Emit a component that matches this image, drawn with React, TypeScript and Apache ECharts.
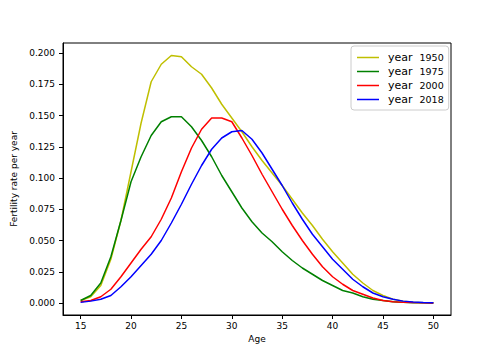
import React, { useEffect, useRef } from "react";
import * as echarts from "echarts";

const ages = [15, 16, 17, 18, 19, 20, 21, 22, 23, 24, 25, 26, 27, 28, 29, 30, 31, 32, 33, 34, 35, 36, 37, 38, 39, 40, 41, 42, 43, 44, 45, 46, 47, 48, 49, 50];

const fert1950 = [0.002, 0.005, 0.014, 0.035, 0.066, 0.105, 0.144, 0.177, 0.191, 0.198, 0.197, 0.189, 0.183, 0.172, 0.159, 0.148, 0.137, 0.125, 0.114, 0.104, 0.094, 0.083, 0.072, 0.062, 0.051, 0.041, 0.032, 0.023, 0.016, 0.010, 0.006, 0.003, 0.0015, 0.0007, 0.0003, 0.0001];
const fert1975 = [0.002, 0.006, 0.016, 0.037, 0.066, 0.097, 0.117, 0.134, 0.145, 0.149, 0.149, 0.141, 0.130, 0.117, 0.102, 0.089, 0.076, 0.065, 0.056, 0.049, 0.041, 0.034, 0.028, 0.023, 0.018, 0.014, 0.010, 0.008, 0.005, 0.003, 0.002, 0.001, 0.0005, 0.0002, 0.0001, 0.0];
const fert2000 = [0.001, 0.002, 0.005, 0.011, 0.021, 0.032, 0.043, 0.053, 0.067, 0.084, 0.105, 0.124, 0.139, 0.148, 0.148, 0.145, 0.132, 0.118, 0.103, 0.089, 0.075, 0.062, 0.050, 0.039, 0.029, 0.021, 0.015, 0.010, 0.007, 0.004, 0.002, 0.001, 0.0005, 0.0003, 0.0001, 0.0];
const fert2018 = [0.0005, 0.0015, 0.003, 0.006, 0.013, 0.021, 0.030, 0.039, 0.050, 0.064, 0.079, 0.095, 0.110, 0.123, 0.132, 0.137, 0.138, 0.131, 0.120, 0.107, 0.094, 0.080, 0.067, 0.055, 0.045, 0.035, 0.027, 0.019, 0.013, 0.008, 0.005, 0.003, 0.0015, 0.0008, 0.0004, 0.0002];

const seriesNames = ["1950", "1975", "2000", "2018"];
const seriesValues = [fert1950, fert1975, fert2000, fert2018];
const seriesColors = ["#bfbf00", "#008000", "#ff0000", "#0000ff"];

const xTicks = [15, 20, 25, 30, 35, 40, 45, 50];
const yTicks = [0, 0.025, 0.05, 0.075, 0.1, 0.125, 0.15, 0.175, 0.2];

const FONT = "DejaVu Sans";

export default function App() {
  const ref = useRef<HTMLDivElement>(null);
  useEffect(() => {
    if (!ref.current) return;
    const chart = echarts.init(ref.current, null, { renderer: "svg" });
    chart.setOption({
      animation: false,
      textStyle: { fontFamily: FONT },
      grid: {
        left: 63,
        right: 53,
        top: 43,
        bottom: 45,
        show: true,
        borderColor: "#000",
        borderWidth: 1,
        backgroundColor: "transparent",
      },
      legend: {
        orient: "vertical",
        left: 351,
        top: 46,
        padding: [6, 5, 5, 6],
        itemGap: 3,
        itemWidth: 22,
        itemHeight: 1.5,
        icon: "rect",
        backgroundColor: "rgba(255,255,255,0.8)",
        borderColor: "#cccccc",
        borderWidth: 1,
        borderRadius: 3,
        data: seriesNames,
        formatter: (name: string) => `{y|year}{n|${name}}`,
        textStyle: {
          fontFamily: FONT,
          color: "#000",
          rich: {
            y: { fontFamily: FONT, fontSize: 11, color: "#000", padding: [0, 0, 0, 4], lineHeight: 13 },
            n: { fontFamily: FONT, fontSize: 9.5, color: "#000", padding: [0, 0, 0, 7], lineHeight: 13 },
          },
        },
      },
      xAxis: {
        type: "value",
        min: 13.25,
        max: 51.75,
        name: "Age",
        nameLocation: "middle",
        nameGap: 19,
        nameTextStyle: { fontFamily: FONT, fontSize: 9, color: "#000" },
        splitLine: { show: false },
        axisLine: { show: true, onZero: false, lineStyle: { color: "#000" } },
        axisTick: { show: true, length: 4, lineStyle: { color: "#000" }, customValues: xTicks },
        axisLabel: { fontFamily: FONT, fontSize: 9, color: "#000", margin: 6, customValues: xTicks, formatter: (v: number) => String(v) },
      },
      yAxis: {
        type: "value",
        min: -0.0096,
        max: 0.208,
        name: "Fertility rate per year",
        nameLocation: "middle",
        nameGap: 37,
        nameRotate: 90,
        nameTextStyle: { fontFamily: FONT, fontSize: 9, color: "#000" },
        splitLine: { show: false },
        axisLine: { show: true, onZero: false, lineStyle: { color: "#000" } },
        axisTick: { show: true, length: 4, lineStyle: { color: "#000" }, customValues: yTicks },
        axisLabel: { fontFamily: FONT, fontSize: 9, color: "#000", margin: 8, customValues: yTicks, formatter: (v: number) => v.toFixed(3) },
      },
      series: seriesNames.map((name, i) => ({
        name,
        type: "line",
        data: ages.map((a, j) => [a, seriesValues[i][j]]),
        symbol: "none",
        showSymbol: false,
        color: seriesColors[i],
        itemStyle: { color: seriesColors[i] },
        lineStyle: { color: seriesColors[i], width: 1.5 },
        z: 2 + i,
      })),
    });
    return () => chart.dispose();
  }, []);
  return <div ref={ref} style={{ width: 504, height: 360, marginLeft: -8, marginTop: -8 }} />;
}
